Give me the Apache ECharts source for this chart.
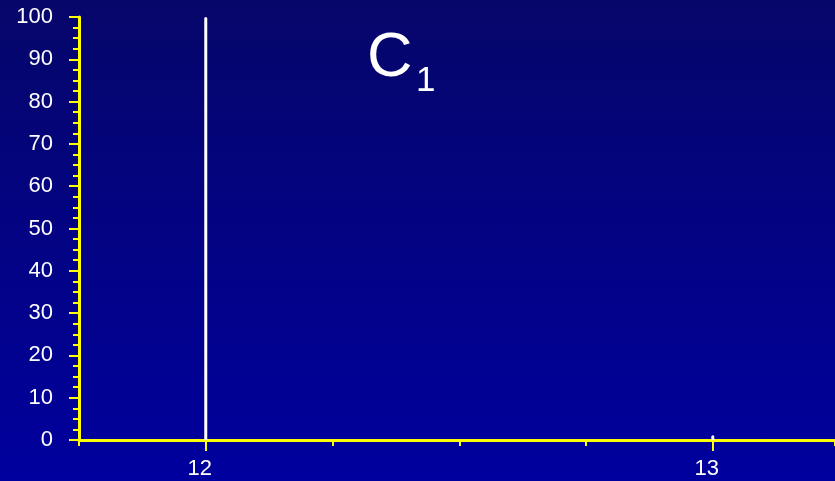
<!DOCTYPE html>
<html>
<head>
<meta charset="utf-8">
<script src="https://cdn.jsdelivr.net/npm/echarts@6/dist/echarts.min.js"></script>
<style>
  html, body { margin: 0; padding: 0; }
  #chart {
    width: 835px; height: 481px;
    background: linear-gradient(to bottom, #06066a 0%, #00009e 100%);
  }
</style>
</head>
<body>
<div id="chart"></div>
<script>
// Mass spectrum of C1: m/z positions and relative abundances
const masses = [12, 13];
const abundances = [100, 1.1];
const xTickLabels = [12, 13];
const yTickStep = 10;

const AXIS = '#ffff00';
const FONT = 'Arial, "Liberation Sans", sans-serif';

const chart = echarts.init(document.getElementById('chart'), null, { renderer: 'canvas' });

const peaks = masses.map((m, i) => [m, abundances[i]]);

chart.setOption({
  backgroundColor: 'transparent',
  animation: false,
  grid: { left: 79, top: 17, right: 0, bottom: 41, containLabel: false },
  graphic: [
    {
      type: 'text', left: 367, top: 27,
      style: { text: 'C', fill: '#ffffff', font: '63px ' + FONT }
    },
    {
      type: 'text', left: 416, top: 64,
      style: { text: '1', fill: '#ffffff', font: '35px ' + FONT }
    }
  ],
  xAxis: [
    {
      type: 'value', min: 11.75, max: 13.241, interval: 0.25,
      axisLine: { show: true, onZero: false, lineStyle: { color: AXIS, width: 3 } },
      axisTick: { show: true, customValues: xTickLabels, length: 11, lineStyle: { color: AXIS, width: 2 } },
      axisLabel: {
        show: true, customValues: xTickLabels, color: '#ffffff',
        fontSize: 22, fontFamily: FONT, margin: 18, padding: [0, 12, 0, 0]
      },
      splitLine: { show: false }
    },
    {
      type: 'value', min: 11.75, max: 13.241, interval: 0.25, position: 'bottom',
      axisLine: { show: false },
      axisTick: { show: true, inside: false, length: 6, lineStyle: { color: AXIS, width: 2 } },
      axisLabel: { show: false },
      splitLine: { show: false }
    }
  ],
  yAxis: {
    type: 'value', min: 0, max: 100, interval: yTickStep,
    axisLine: { show: true, lineStyle: { color: AXIS, width: 3 } },
    axisTick: { show: true, length: 10, lineStyle: { color: AXIS, width: 2 } },
    minorTick: { show: true, splitNumber: 4, length: 6, lineStyle: { color: AXIS, width: 2 } },
    axisLabel: { color: '#ffffff', fontSize: 22, fontFamily: FONT, margin: 26 },
    splitLine: { show: false }
  },
  series: [
    {
      type: 'bar',
      xAxisIndex: 0,
      data: peaks,
      barWidth: 3,
      itemStyle: { color: '#ffffff', borderRadius: [2, 2, 0, 0] },
      z: 1
    }
  ]
});
</script>
</body>
</html>
